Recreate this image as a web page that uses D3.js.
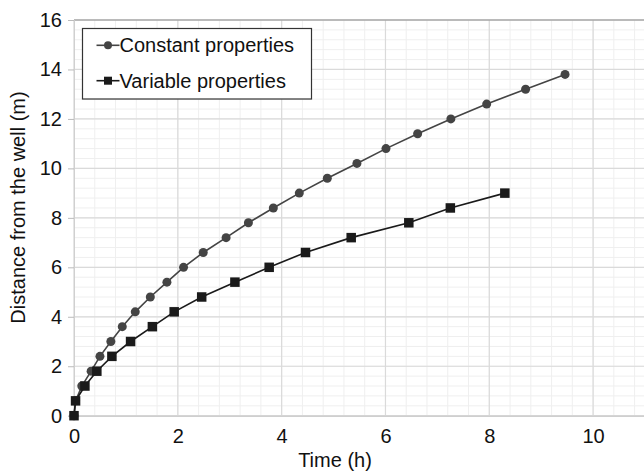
<!DOCTYPE html>
<html>
<head>
<meta charset="utf-8">
<script src="https://cdn.jsdelivr.net/npm/d3@7"></script>
<style>
  body { margin: 0; background: #fff; }
  text { font-family: "Liberation Sans", Arial, sans-serif; fill: #111; }
</style>
</head>
<body>
<div id="chart"></div>
<script>
// values
const constTime = [0, 0.03, 0.15, 0.33, 0.5, 0.71, 0.93, 1.18, 1.47, 1.79, 2.11, 2.49, 2.93, 3.36, 3.84, 4.34, 4.88, 5.45, 6.01, 6.62, 7.26, 7.95, 8.70, 9.46];
const constDist = [0, 0.6, 1.2, 1.8, 2.4, 3.0, 3.6, 4.2, 4.8, 5.4, 6.0, 6.6, 7.2, 7.8, 8.4, 9.0, 9.6, 10.2, 10.8, 11.4, 12.0, 12.6, 13.2, 13.8];
const varTime = [0, 0.03, 0.21, 0.44, 0.73, 1.09, 1.51, 1.93, 2.46, 3.10, 3.76, 4.46, 5.34, 6.45, 7.25, 8.30];
const varDist = [0, 0.6, 1.2, 1.8, 2.4, 3.0, 3.6, 4.2, 4.8, 5.4, 6.0, 6.6, 7.2, 7.8, 8.4, 9.0];
const xTicks = [0, 2, 4, 6, 8, 10];
const yTicks = [0, 2, 4, 6, 8, 10, 12, 14, 16];
const seriesNames = ["Constant properties", "Variable properties"];

const W = 644, H = 472;
const margin = { top: 20, left: 74 };
const plotW = 571, plotH = 395.7;
const fontSize = "20px";

const svg = d3.select("#chart").append("svg")
    .attr("width", W)
    .attr("height", H);

const g = svg.append("g")
    .attr("transform", `translate(${margin.left},${margin.top})`);

const x = d3.scaleLinear().domain([0, 11]).range([0, plotW]);
const y = d3.scaleLinear().domain([0, 16]).range([plotH, 0]);

// minor grid every 0.4
const minorX = d3.range(0, 11.01, 0.4);
const minorY = d3.range(0, 16.01, 0.4);
g.append("g").selectAll("line")
    .data(minorX)
    .join("line")
    .attr("x1", d => x(d)).attr("x2", d => x(d))
    .attr("y1", 0).attr("y2", plotH)
    .attr("stroke", "#efefef");
g.append("g").selectAll("line")
    .data(minorY)
    .join("line")
    .attr("x1", 0).attr("x2", plotW)
    .attr("y1", d => y(d)).attr("y2", d => y(d))
    .attr("stroke", "#efefef");

// major grid every 2
g.append("g").selectAll("line")
    .data(xTicks)
    .join("line")
    .attr("x1", d => x(d)).attr("x2", d => x(d))
    .attr("y1", 0).attr("y2", plotH)
    .attr("stroke", "#dadada")
    .attr("stroke-width", 1.2);
g.append("g").selectAll("line")
    .data(yTicks)
    .join("line")
    .attr("x1", 0).attr("x2", plotW)
    .attr("y1", d => y(d)).attr("y2", d => y(d))
    .attr("stroke", "#dadada")
    .attr("stroke-width", 1.2);

// top border
g.append("line")
    .attr("x1", 0).attr("x2", plotW)
    .attr("y1", 0).attr("y2", 0)
    .attr("stroke", "#8c8c8c")
    .attr("stroke-width", 1.2);

// axes
const yAxis = g.append("g")
    .call(d3.axisLeft(y).tickValues(yTicks).tickSize(6).tickPadding(6));
yAxis.select(".domain").attr("stroke", "#d0d0d0");
yAxis.selectAll(".tick line").attr("stroke", "#bbb");
yAxis.selectAll("text").style("font-size", fontSize).attr("fill", "#111");

const xAxis = g.append("g")
    .attr("transform", `translate(0,${plotH})`)
    .call(d3.axisBottom(x).tickValues(xTicks).tickSize(0).tickPadding(13));
xAxis.select(".domain").attr("stroke", "#cfcfcf").attr("stroke-width", 1.5);
xAxis.selectAll("text").style("font-size", fontSize).attr("fill", "#111");

// series
const constData = constTime.map((t, i) => ({ t, d: constDist[i] }));
const varData = varTime.map((t, i) => ({ t, d: varDist[i] }));

const line = d3.line().x(p => x(p.t)).y(p => y(p.d));

g.append("path")
    .datum(constData)
    .attr("fill", "none")
    .attr("stroke", "#444")
    .attr("stroke-width", 1.6)
    .attr("d", line);
g.selectAll("circle.c")
    .data(constData)
    .join("circle")
    .attr("class", "c")
    .attr("cx", p => x(p.t))
    .attr("cy", p => y(p.d))
    .attr("r", 4.5)
    .attr("fill", "#444");

g.append("path")
    .datum(varData)
    .attr("fill", "none")
    .attr("stroke", "#1a1a1a")
    .attr("stroke-width", 1.6)
    .attr("d", line);
const sq = 9.5;
g.selectAll("rect.v")
    .data(varData)
    .join("rect")
    .attr("class", "v")
    .attr("x", p => x(p.t) - sq / 2)
    .attr("y", p => y(p.d) - sq / 2)
    .attr("width", sq)
    .attr("height", sq)
    .attr("fill", "#1a1a1a");

// axis titles
svg.append("text")
    .attr("x", 335)
    .attr("y", 466.5)
    .attr("text-anchor", "middle")
    .style("font-size", fontSize)
    .text("Time (h)");

svg.append("text")
    .attr("transform", `translate(25,207.5) rotate(-90)`)
    .attr("text-anchor", "middle")
    .style("font-size", fontSize)
    .text("Distance from the well (m)");

// legend
const legend = svg.append("g");
legend.append("rect")
    .attr("x", 82.5).attr("y", 28.5)
    .attr("width", 229).attr("height", 70.5)
    .attr("fill", "#fff")
    .attr("stroke", "#333")
    .attr("stroke-width", 1.2);

const rows = legend.selectAll("g.row")
    .data(seriesNames)
    .join("g")
    .attr("transform", (d, i) => `translate(96.5,${45.3 + i * 35.4})`);
rows.append("line")
    .attr("x1", 0).attr("x2", 23)
    .attr("stroke", (d, i) => i === 0 ? "#444" : "#1a1a1a")
    .attr("stroke-width", 1.6);
rows.filter((d, i) => i === 0).append("circle")
    .attr("cx", 11.5).attr("r", 4).attr("fill", "#444");
rows.filter((d, i) => i === 1).append("rect")
    .attr("x", 7.5).attr("y", -4).attr("width", 8).attr("height", 8).attr("fill", "#1a1a1a");
rows.append("text")
    .attr("x", 23)
    .attr("dy", "0.35em")
    .style("font-size", fontSize)
    .text(d => d);
</script>
</body>
</html>
